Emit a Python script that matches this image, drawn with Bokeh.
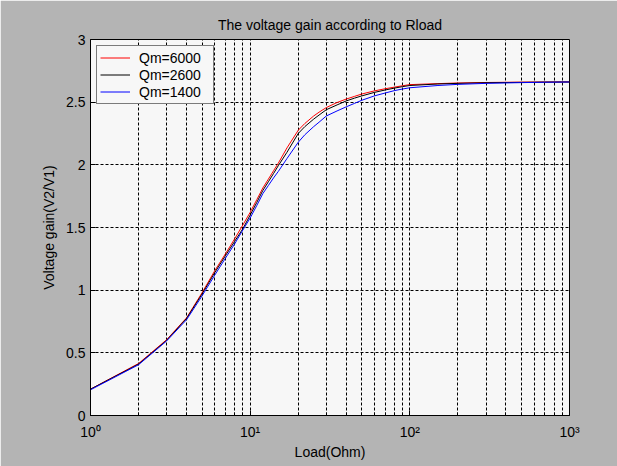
from bokeh.plotting import figure
from bokeh.models import FixedTicker, Legend, LegendItem
from bokeh.embed import file_html
from bokeh.resources import INLINE

# ---------------- data ----------------
load_ohm = [1, 2, 3, 4, 5, 6, 7, 8, 9, 10, 11, 12, 13, 14, 15, 17, 20, 22, 25,
            27, 30, 35, 40, 45, 50, 60, 70, 80, 90, 100, 150, 200, 300, 500,
            700, 1000]
gain_qm6000 = [0.21, 0.415, 0.605, 0.78, 0.98, 1.155, 1.29, 1.41, 1.52, 1.621,
               1.722, 1.815, 1.886, 1.952, 2.013, 2.135, 2.276, 2.33, 2.39,
               2.42, 2.457, 2.497, 2.525, 2.546, 2.565, 2.59, 2.607, 2.62,
               2.631, 2.64, 2.648, 2.653, 2.657, 2.66, 2.661, 2.662]
gain_qm2600 = [0.21, 0.41, 0.60, 0.775, 0.97, 1.14, 1.275, 1.39, 1.49, 1.599,
               1.70, 1.795, 1.865, 1.93, 1.993, 2.10, 2.25, 2.305, 2.365,
               2.397, 2.44, 2.478, 2.51, 2.532, 2.55, 2.578, 2.597, 2.612,
               2.624, 2.633, 2.645, 2.65, 2.655, 2.658, 2.66, 2.661]
gain_qm1400 = [0.205, 0.405, 0.595, 0.765, 0.955, 1.12, 1.255, 1.37, 1.48, 1.576,
               1.675, 1.77, 1.835, 1.895, 1.947, 2.05, 2.18, 2.24, 2.305,
               2.34, 2.39, 2.43, 2.463, 2.49, 2.515, 2.55, 2.573, 2.592,
               2.605, 2.615, 2.633, 2.642, 2.65, 2.656, 2.659, 2.661]
series_labels = ["Qm=6000", "Qm=2600", "Qm=1400"]
series_colors = ["#ff0000", "#000000", "#0000ff"]

x_major = [1, 10, 100, 1000]
x_tick_labels = ["10\u2070", "10\u00b9", "10\u00b2", "10\u00b3"]
y_ticks = [0, 0.5, 1, 1.5, 2, 2.5, 3]
y_tick_labels = ["0", "0.5", "1", "1.5", "2", "2.5", "3"]

title_text = "The voltage gain according to Rload"
x_label = "Load(Ohm)"
y_label = "Voltage gain(V2/V1)"

# ---------------- styling ----------------
FONT = "Liberation Sans"
FIG_BG = "#b4b4b4"
PLOT_BG = "#f7f7f7"
GRID_DASH = "3 2"

p = figure(width=617, height=466, x_axis_type="log",
           x_range=(x_major[0], x_major[-1]), y_range=(y_ticks[0], y_ticks[-1]),
           output_backend="svg", toolbar_location=None,
           min_border_left=90, min_border_right=48,
           min_border_top=39, min_border_bottom=51,
           background_fill_color=PLOT_BG, border_fill_color=FIG_BG)

p.outline_line_color = "black"
p.outline_line_width = 1

# title
p.title.text = title_text
p.title.align = "center"
p.title.text_font = FONT
p.title.text_font_size = "14px"
p.title.text_font_style = "normal"
p.title.text_color = "black"
p.title.standoff = 14

# x axis (log)
minor_x = [m * d for d in x_major[:-1] for m in range(2, 10)]
xticker = FixedTicker(ticks=x_major, minor_ticks=minor_x)
xa = p.xaxis[0]
xa.ticker = xticker
xa.major_label_overrides = dict(zip(x_major, x_tick_labels))
xa.major_label_text_font = FONT
xa.major_label_text_font_size = "14px"
xa.major_label_text_color = "black"
xa.major_label_standoff = 8
xa.major_tick_in = 5
xa.major_tick_out = 0
xa.minor_tick_in = 3
xa.minor_tick_out = 0
xa.axis_line_color = "black"
xa.major_tick_line_color = "black"
xa.minor_tick_line_color = "black"
xa.axis_label = x_label
xa.axis_label_text_font = FONT
xa.axis_label_text_font_size = "14px"
xa.axis_label_text_font_style = "normal"
xa.axis_label_text_color = "black"
xa.axis_label_standoff = 1

# y axis
yticker = FixedTicker(ticks=y_ticks)
ya = p.yaxis[0]
ya.ticker = yticker
ya.major_label_overrides = dict(zip(y_ticks, y_tick_labels))
ya.major_label_text_font = FONT
ya.major_label_text_font_size = "14px"
ya.major_label_text_color = "black"
ya.major_label_standoff = 5
ya.major_tick_in = 5
ya.major_tick_out = 0
ya.minor_tick_line_color = None
ya.axis_line_color = "black"
ya.major_tick_line_color = "black"
ya.axis_label = y_label
ya.axis_label_text_font = FONT
ya.axis_label_text_font_size = "14px"
ya.axis_label_text_font_style = "normal"
ya.axis_label_text_color = "black"
ya.axis_label_standoff = 6

# grids
p.xgrid.ticker = xticker
p.xgrid.grid_line_color = "black"
p.xgrid.grid_line_dash = GRID_DASH
p.xgrid.minor_grid_line_color = "black"
p.xgrid.minor_grid_line_dash = GRID_DASH
p.ygrid.ticker = yticker
p.ygrid.grid_line_color = "black"
p.ygrid.grid_line_dash = GRID_DASH

# curves
renderers = []
for vals, col in zip([gain_qm6000, gain_qm2600, gain_qm1400], series_colors):
    renderers.append(p.line(load_ohm, vals, line_color=col, line_width=1))

legend = Legend(items=[LegendItem(label=lab, renderers=[r])
                       for lab, r in zip(series_labels, renderers)],
                location="top_left", margin=6, padding=3, spacing=0,
                label_height=17, glyph_height=17, glyph_width=30,
                label_standoff=9, label_width=71,
                label_text_font=FONT, label_text_font_size="14px",
                label_text_color="black",
                border_line_color="black", border_line_width=1,
                background_fill_color=PLOT_BG, background_fill_alpha=1)
p.add_layout(legend)

open("out.html", "w").write(file_html(p, INLINE))
